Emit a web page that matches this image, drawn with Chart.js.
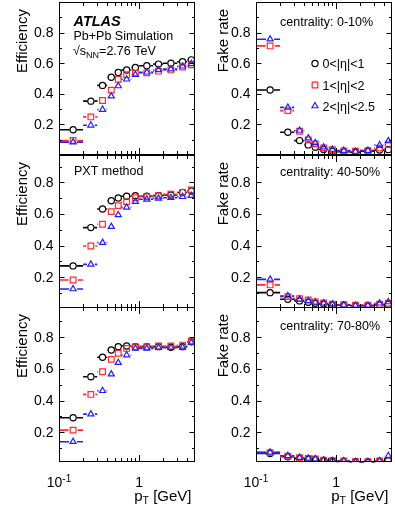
<!DOCTYPE html>
<html>
<head>
<meta charset="utf-8">
<script src="https://cdn.jsdelivr.net/npm/chart.js@4.4.0/dist/chart.umd.min.js"></script>
<style>
  html, body { margin: 0; padding: 0; background: #fff; }
  #wrap { position: relative; width: 395px; height: 512px; overflow: hidden; }
  #wrap canvas { position: absolute; }
</style>
</head>
<body>
<div id="wrap"></div>
<script>
// pT bins (GeV)
const ptLow  = [0.1, 0.2, 0.3, 0.4, 0.5, 0.6, 0.8, 1.0, 1.5, 2, 3, 4];
const ptHigh = [0.2, 0.3, 0.4, 0.5, 0.6, 0.8, 1.0, 1.5, 2, 3, 4, 5];
const ptMid  = [0.15, 0.25, 0.35, 0.45, 0.55, 0.7, 0.9, 1.25, 1.75, 2.5, 3.5, 4.5];

// efficiency, centrality 0-10%
const eff0010Eta01  = [0.165, 0.352, 0.455, 0.508, 0.539, 0.556, 0.572, 0.583, 0.594, 0.600, 0.609, 0.622];
const eff0010Eta12  = [0.095, 0.249, 0.356, 0.424, 0.495, 0.525, 0.535, 0.537, 0.548, 0.556, 0.575, 0.589];
const eff0010Eta225 = [0.084, 0.194, 0.297, 0.385, 0.451, 0.495, 0.525, 0.541, 0.556, 0.561, 0.580, 0.596];
// efficiency, centrality 40-50%
const eff4050Eta01  = [0.272, 0.514, 0.632, 0.684, 0.702, 0.712, 0.716, 0.712, 0.716, 0.720, 0.736, 0.745];
const eff4050Eta12  = [0.183, 0.398, 0.535, 0.615, 0.653, 0.678, 0.703, 0.709, 0.716, 0.725, 0.737, 0.752];
const eff4050Eta225 = [0.126, 0.282, 0.419, 0.520, 0.594, 0.642, 0.678, 0.693, 0.699, 0.703, 0.709, 0.716];
// efficiency, centrality 70-80%
const eff7080Eta01  = [0.292, 0.550, 0.673, 0.719, 0.740, 0.744, 0.740, 0.740, 0.740, 0.736, 0.740, 0.771];
const eff7080Eta12  = [0.214, 0.439, 0.582, 0.660, 0.698, 0.729, 0.740, 0.740, 0.744, 0.744, 0.750, 0.775];
const eff7080Eta225 = [0.141, 0.315, 0.462, 0.567, 0.639, 0.687, 0.729, 0.729, 0.733, 0.733, 0.736, 0.765];

// fake rate
const fake0010Eta01  = [0.425, 0.149, 0.094, 0.066, 0.051, 0.036, 0.025, 0.022, 0.018, 0.025, 0.032, 0.035];
const fake0010Eta12  = [0.713, 0.290, 0.155, 0.099, 0.073, 0.047, 0.034, 0.027, 0.025, 0.029, 0.045, 0.068];
const fake0010Eta225 = [0.757, 0.311, 0.160, 0.110, 0.079, 0.051, 0.036, 0.029, 0.023, 0.029, 0.065, 0.092];
const fake4050Eta01  = [0.103, 0.061, 0.051, 0.042, 0.036, 0.032, 0.025, 0.023, 0.020, 0.020, 0.025, 0.030];
const fake4050Eta12  = [0.152, 0.078, 0.065, 0.057, 0.045, 0.038, 0.030, 0.027, 0.024, 0.024, 0.030, 0.036];
const fake4050Eta225 = [0.187, 0.082, 0.061, 0.051, 0.042, 0.036, 0.030, 0.025, 0.022, 0.022, 0.036, 0.044];
const fake7080Eta01  = [0.067, 0.046, 0.036, 0.032, 0.029, 0.023, 0.019, 0.017, 0.015, 0.015, 0.017, 0.021];
const fake7080Eta12  = [0.072, 0.050, 0.040, 0.036, 0.032, 0.025, 0.021, 0.019, 0.015, 0.015, 0.019, 0.025];
const fake7080Eta225 = [0.074, 0.052, 0.040, 0.036, 0.032, 0.025, 0.021, 0.019, 0.015, 0.015, 0.019, 0.052];

// labels and ticks
const legendLabels = ['0<|η|<1', '1<|η|<2', '2<|η|<2.5'];
const centralityLabels = ['centrality: 0-10%', 'centrality: 40-50%', 'centrality: 70-80%'];
const yTickVals = [0.2, 0.4, 0.6, 0.8];
const yTickLabels = ['0.2', '0.4', '0.6', '0.8'];
const yTickMarks = [0.1, 0.2, 0.3, 0.4, 0.5, 0.6, 0.7, 0.8, 0.9];
const xTickMarks = [0.1, 0.2, 0.3, 0.4, 0.5, 0.6, 0.7, 0.8, 0.9, 1, 2, 3, 4, 5];
const xLabelVals = [0.1, 1];

const FONT = "'Liberation Sans', Arial, Helvetica, sans-serif";
const colors = ['#000000', '#ff2a2a', '#2020ff'];
const markerStyles = ['circle', 'rect', 'triangle'];
const markerRadius = [3.1, 4.0, 3.5];

// layout of the 3x2 grid (page pixels)
const cols = [
  { left: 0,   width: 198, plotLeft: 59,  plotRight: 195, titleX: 27 },
  { left: 198, width: 197, plotLeft: 256, plotRight: 392, titleX: 228 }
];
const rows = [
  { top: 0,   height: 158, plotTop: 2,   plotBottom: 155, yMin: 0,     yMax: 1.0 },
  { top: 150, height: 162, plotTop: 155, plotBottom: 308, yMin: 0.006, yMax: 0.973 },
  { top: 302, height: 210, plotTop: 307, plotBottom: 462, yMin: 0.013, yMax: 0.99 }
];

function drawRuns(ctx, runs, x, y, align) {
  let total = 0;
  runs.forEach(r => {
    ctx.font = (r.font || '') + ' ' + r.size + 'px ' + FONT;
    r.w = ctx.measureText(r.t).width;
    total += r.w;
  });
  let cx = align === 'right' ? x - total : align === 'center' ? x - total / 2 : x;
  ctx.textAlign = 'left';
  ctx.textBaseline = 'alphabetic';
  runs.forEach(r => {
    ctx.font = (r.font || '') + ' ' + r.size + 'px ' + FONT;
    ctx.fillText(r.t, cx, y + (r.dy || 0));
    cx += r.w;
  });
}

function strokeMarker(ctx, style, r, x, y, color) {
  ctx.save();
  ctx.strokeStyle = color;
  ctx.fillStyle = 'rgba(0,0,0,0)';
  ctx.lineWidth = 1.2;
  if (Chart.helpers && Chart.helpers.drawPoint) {
    Chart.helpers.drawPoint(ctx, { pointStyle: style, radius: r, borderWidth: 1.2, rotation: 0 }, x, y);
  }
  ctx.restore();
}

const rootStyle = {
  id: 'rootStyle',
  beforeDatasetDraw(chart, args) {
    // horizontal bin-width bars, with a gap for the hollow marker
    const ctx = chart.ctx;
    const xs = chart.scales.x;
    const k = args.meta.index;
    const gap = markerRadius[k] + 0.5;
    ctx.save();
    ctx.strokeStyle = colors[k];
    ctx.lineWidth = 1.6;
    args.meta.data.forEach((pt, i) => {
      const x0 = xs.getPixelForValue(ptLow[i]);
      const x1 = xs.getPixelForValue(ptHigh[i]);
      ctx.beginPath();
      if (pt.x - gap > x0) { ctx.moveTo(x0, pt.y); ctx.lineTo(pt.x - gap, pt.y); }
      if (pt.x + gap < x1) { ctx.moveTo(pt.x + gap, pt.y); ctx.lineTo(x1, pt.y); }
      ctx.stroke();
    });
    ctx.restore();
  },
  afterDraw(chart, args, opts) {
    const ctx = chart.ctx;
    const a = chart.chartArea;
    const xs = chart.scales.x, ys = chart.scales.y;
    const ox = opts.originX, oy = opts.originY;
    ctx.save();
    ctx.strokeStyle = '#000';
    ctx.lineWidth = 1;
    const L = Math.round(a.left) + 0.5, R = Math.round(a.right) - 0.5;
    const T = Math.round(a.top) + 0.5, B = Math.round(a.bottom) - 0.5;
    ctx.strokeRect(L, T, R - L, B - T);

    // ticks on all four sides, pointing inward
    ctx.beginPath();
    yTickMarks.forEach(v => {
      if (v <= ys.min || v >= ys.max) return;
      const py = Math.round(ys.getPixelForValue(v)) + 0.5;
      const len = yTickVals.includes(v) ? 5 : 2.5;
      ctx.moveTo(L, py); ctx.lineTo(L + len, py);
      ctx.moveTo(R, py); ctx.lineTo(R - len, py);
    });
    xTickMarks.forEach(v => {
      const px = Math.round(xs.getPixelForValue(v)) + 0.5;
      if (px <= L + 0.5 || px >= R - 0.5) return;
      const len = xLabelVals.includes(v) ? 6.5 : 3.5;
      ctx.moveTo(px, B); ctx.lineTo(px, B - len);
      ctx.moveTo(px, T); ctx.lineTo(px, T + len);
    });
    ctx.stroke();

    ctx.fillStyle = '#000';
    // y tick labels
    ctx.font = '14px ' + FONT;
    ctx.textAlign = 'right';
    ctx.textBaseline = 'middle';
    yTickVals.forEach((v, i) => {
      ctx.fillText(yTickLabels[i], a.left - 5.5, ys.getPixelForValue(v) + 0.5);
    });

    // y title, aligned to the top of the axis
    ctx.save();
    ctx.translate(opts.titleX - ox, a.top + 7);
    ctx.rotate(-Math.PI / 2);
    ctx.font = '15px ' + FONT;
    ctx.textAlign = 'right';
    ctx.textBaseline = 'alphabetic';
    ctx.fillText(opts.yTitle, 0, 0);
    ctx.restore();

    // x labels on the bottom row only
    if (opts.xLabels) {
      drawRuns(ctx, [{ t: '10', size: 14 }, { t: '-1', size: 10, dy: -4.5 }],
        xs.getPixelForValue(xLabelVals[0]), 486.5 - oy, 'center');
      drawRuns(ctx, [{ t: '1', size: 14 }], xs.getPixelForValue(xLabelVals[1]), 486.5 - oy, 'center');
      drawRuns(ctx, [{ t: 'p', size: 15 }, { t: 'T', size: 10.5, dy: 3 }, { t: ' [GeV]', size: 15 }],
        a.right - 3.5, 500.5 - oy, 'right');
    }

    // free texts
    (opts.texts || []).forEach(tx => drawRuns(ctx, tx.runs, tx.x - ox, tx.y - oy, tx.align || 'left'));

    // legend
    if (opts.legend) {
      legendLabels.forEach((lab, k) => {
        const ly = [63.5, 85, 106][k] - oy;
        strokeMarker(ctx, markerStyles[k], markerRadius[k], 315 - ox, ly, colors[k]);
        drawRuns(ctx, [{ t: lab, size: 12.5 }], 322.5 - ox, ly + 4.5, 'left');
      });
    }
    ctx.restore();
  }
};

function makeChart(colIdx, rowIdx, series, pluginOpts) {
  const c = cols[colIdx], r = rows[rowIdx];
  const canvas = document.createElement('canvas');
  canvas.width = c.width;
  canvas.height = r.height;
  canvas.style.left = c.left + 'px';
  canvas.style.top = r.top + 'px';
  canvas.style.width = c.width + 'px';
  canvas.style.height = r.height + 'px';
  document.getElementById('wrap').appendChild(canvas);

  const datasets = series.map((vals, k) => ({
    label: legendLabels[k],
    data: vals.map((v, i) => ({ x: ptMid[i], y: v })),
    pointStyle: markerStyles[k],
    pointRadius: markerRadius[k],
    pointBorderWidth: 1.2,
    borderColor: colors[k],
    backgroundColor: 'rgba(0,0,0,0)',
    order: 3 - k
  }));

  pluginOpts.originX = c.left;
  pluginOpts.originY = r.top;
  pluginOpts.titleX = c.titleX;

  return new Chart(canvas, {
    type: 'scatter',
    data: { datasets },
    options: {
      responsive: false,
      animation: false,
      events: [],
      devicePixelRatio: 1,
      layout: {
        autoPadding: false,
        padding: {
          left: c.plotLeft - c.left,
          right: c.left + c.width - c.plotRight,
          top: r.plotTop - r.top,
          bottom: r.top + r.height - r.plotBottom
        }
      },
      scales: {
        x: { type: 'logarithmic', min: 0.1, max: 5, display: false },
        y: { type: 'linear', min: r.yMin, max: r.yMax, display: false }
      },
      plugins: {
        legend: { display: false },
        tooltip: { enabled: false },
        rootStyle: pluginOpts
      }
    },
    plugins: [rootStyle]
  });
}

makeChart(0, 0, [eff0010Eta01, eff0010Eta12, eff0010Eta225], {
  yTitle: 'Efficiency',
  texts: [
    { runs: [{ t: 'ATLAS', size: 14.5, font: 'italic bold' }], x: 73.5, y: 26 },
    { runs: [{ t: 'Pb+Pb Simulation', size: 12.5 }], x: 73.5, y: 40 },
    { runs: [{ t: '√', size: 12.5 }, { t: 's', size: 12.5 }, { t: 'NN', size: 9, dy: 3 }, { t: '=2.76 TeV', size: 12.5 }], x: 73, y: 54.5 }
  ]
});
makeChart(1, 0, [fake0010Eta01, fake0010Eta12, fake0010Eta225], {
  yTitle: 'Fake rate', legend: true,
  texts: [{ runs: [{ t: centralityLabels[0], size: 12.5 }], x: 280, y: 25.5 }]
});
makeChart(0, 1, [eff4050Eta01, eff4050Eta12, eff4050Eta225], {
  yTitle: 'Efficiency',
  texts: [{ runs: [{ t: 'PXT method', size: 12.5 }], x: 74, y: 175 }]
});
makeChart(1, 1, [fake4050Eta01, fake4050Eta12, fake4050Eta225], {
  yTitle: 'Fake rate',
  texts: [{ runs: [{ t: centralityLabels[1], size: 12.5 }], x: 280, y: 175.5 }]
});
makeChart(0, 2, [eff7080Eta01, eff7080Eta12, eff7080Eta225], {
  yTitle: 'Efficiency', xLabels: true
});
makeChart(1, 2, [fake7080Eta01, fake7080Eta12, fake7080Eta225], {
  yTitle: 'Fake rate', xLabels: true,
  texts: [{ runs: [{ t: centralityLabels[2], size: 12.5 }], x: 280, y: 330 }]
});
</script>
</body>
</html>
